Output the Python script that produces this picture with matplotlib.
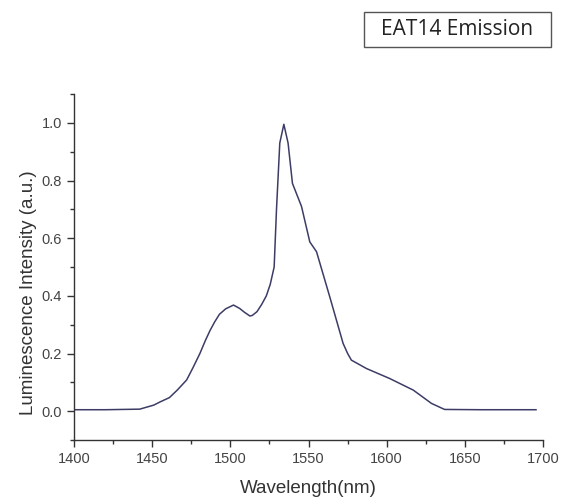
import numpy as np
import matplotlib.pyplot as plt
from matplotlib.patches import Rectangle
from matplotlib.ticker import MultipleLocator

# emission spectrum
wavelength = [1400, 1420, 1442, 1451, 1455, 1461, 1466, 1472, 1476, 1480.5, 1484, 1487,
              1490, 1493, 1497, 1502, 1506, 1509, 1512.5, 1514, 1517, 1520, 1523, 1525.5,
              1528, 1529.5, 1531.6, 1534.2, 1536.9, 1539.7, 1545.5, 1550.8, 1555.1,
              1563.6, 1572.1, 1575, 1577.4, 1587, 1602, 1617, 1628.6, 1637, 1660, 1695.5]
intensity = [0.005, 0.005, 0.007, 0.021, 0.032, 0.047, 0.073, 0.108, 0.15, 0.20, 0.245, 0.28,
             0.31, 0.336, 0.355, 0.368, 0.356, 0.343, 0.33, 0.332, 0.345, 0.37, 0.40, 0.44,
             0.50, 0.70, 0.93, 0.995, 0.93, 0.79, 0.71, 0.587, 0.553,
             0.396, 0.235, 0.20, 0.177, 0.148, 0.113, 0.073, 0.027, 0.006, 0.005, 0.005]

fig = plt.figure(figsize=(5.61, 5.0), dpi=100)
ax = fig.add_axes([0.132, 0.12, 0.836, 0.692])

ax.plot(wavelength, intensity, color="#3c3c66", lw=1.1)

ax.set_xlim(1400, 1700)
ax.set_ylim(-0.1, 1.1)
ax.xaxis.set_major_locator(MultipleLocator(50))
ax.xaxis.set_minor_locator(MultipleLocator(25))
ax.yaxis.set_major_locator(MultipleLocator(0.2))
ax.yaxis.set_minor_locator(MultipleLocator(0.1))
ax.set_yticks([0.0, 0.2, 0.4, 0.6, 0.8, 1.0])
ax.set_yticklabels(["0.0", "0.2", "0.4", "0.6", "0.8", "1.0"])

for s in ["top", "right"]:
    ax.spines[s].set_visible(False)
for s in ["left", "bottom"]:
    ax.spines[s].set_color("#333333")
    ax.spines[s].set_linewidth(1.0)

ax.tick_params(which="major", direction="out", length=5, width=1.0, color="#333333",
               labelsize=10.5, labelcolor="#444444")
ax.tick_params(which="minor", direction="out", length=3, width=1.0, color="#333333")
for lbl in ax.get_xticklabels() + ax.get_yticklabels():
    lbl.set_family("Liberation Sans")

ax.set_xlabel("Wavelength(nm)", fontsize=13.5, family="Liberation Sans", color="#333333")
ax.set_ylabel("Luminescence Intensity (a.u.)", fontsize=13.5, family="Liberation Sans",
              color="#333333")
ax.xaxis.set_label_coords(0.5, -0.139)
ax.yaxis.set_label_coords(-0.098, 0.426)
ax.xaxis.label.set_va("center")
ax.yaxis.label.set_va("center")

# title box in the top right corner
fig.patches.append(Rectangle((364 / 561, 1 - 47 / 500), 187 / 561, 35 / 500,
                             transform=fig.transFigure, fc="white", ec="#555555", lw=1.0))
fig.text(457.5 / 561, 1 - 29.5 / 500, "EAT14 Emission", fontsize=15, family="Open Sans",
         color="#222222", ha="center", va="center")

fig.savefig("out.png", dpi=100)
